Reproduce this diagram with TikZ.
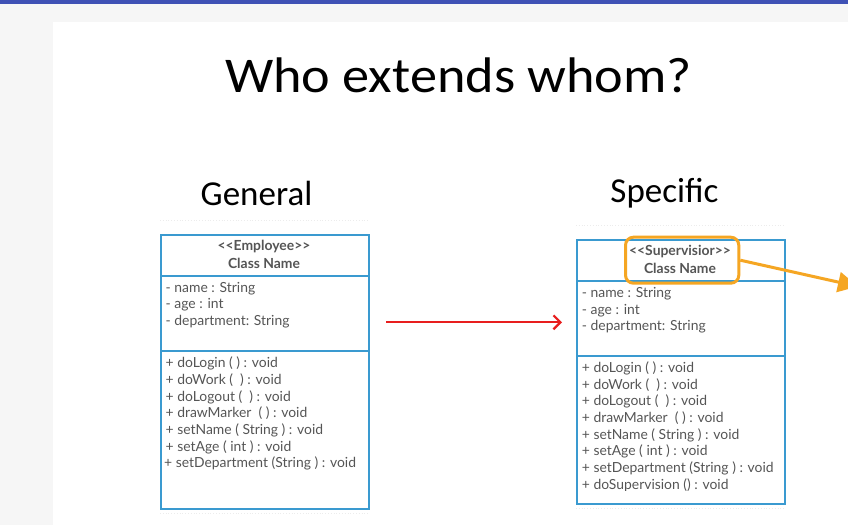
\documentclass[tikz,border=0pt]{standalone}
\usepackage{fontspec}
\setmainfont{Lato}
\newfontfamily\slidefont{Carlito}
\usetikzlibrary{arrows.meta}

\definecolor{barblue}{RGB}{63,81,181}
\definecolor{pagegray}{RGB}{246,246,246}
\definecolor{umlblue}{RGB}{58,154,208}
\definecolor{umltext}{RGB}{85,85,85}
\definecolor{hiorange}{RGB}{245,166,35}
\definecolor{arrowred}{RGB}{232,30,30}

\tikzset{
  member/.style={anchor=base west, inner sep=0pt, text=umltext,
                 font=\fontsize{13.9}{16}\selectfont},
  stereo/.style={anchor=base, inner sep=0pt, text=umltext,
                 font=\bfseries\fontsize{13.9}{16}\selectfont},
  umlbox/.style={draw=umlblue, line width=2pt, inner sep=0pt, anchor=north west},
  divider/.style={draw=umlblue, line width=2pt},
  heading/.style={anchor=base, inner sep=0pt, text=black,
                  font=\slidefont\fontsize{35}{40}\selectfont},
  guide/.style={draw=gray!15, dotted, line width=0.8pt},
  highlight/.style={draw=hiorange, line width=3pt, rounded corners=8pt,
                    inner sep=0pt, anchor=north west}
}

\begin{document}
\begin{tikzpicture}[x=1pt,y=-1pt]
\useasboundingbox (0,0) rectangle (848,525);
\clip (0,0) rectangle (848,525);

% slide background
\fill[pagegray] (0,0) rectangle (848,525);
\fill[white] (53,22) rectangle (848,525);
\fill[barblue] (0,0) rectangle (848,4);

% headings
\node[heading, font=\slidefont\fontsize{50}{54}\selectfont, xscale=1.085] (title) at (458.5,92) {Who extends whom?};
\node[heading] (general) at (256.5,205) {General};
\node[heading] (specific) at (664.5,202) {Specific};

% faint guide lines around the class boxes
\draw[guide] (160,220) -- (368,220);
\draw[guide] (160,513) -- (368,513);
\draw[guide] (576,225) -- (784,225);
\draw[guide] (576,508) -- (784,508);

% ---- Employee class ----
\node[umlbox, minimum width=208.3pt, minimum height=273.4pt] (emp) at (160,234.3) {};
\draw[divider] (160,276) -- (368.3,276);
\draw[divider] (160,351) -- (368.3,351);
\node[stereo] (empstereo) at (264,250) {<{}<Employee>{}>};
\node[stereo] (empname) at (264,268.3) {Class Name};
\node[member] (ea1) at (165.5,292)   {- name : String};
\node[member] (ea2) at (165.5,308.7) {- age : int};
\node[member] (ea3) at (165.5,325.4) {- department: String};
\node[member] (em1) at (165.5,367.7) {+ doLogin ( ) : void};
\node[member] (em2) at (165.5,384.4) {+ doWork (\ \ ) : void};
\node[member] (em3) at (165.5,401.1) {+ doLogout (\ \ ) : void};
\node[member] (em4) at (165.5,417.8) {+ drawMarker\ \ ( ) : void};
\node[member] (em5) at (165.5,434.5) {+ setName ( String ) : void};
\node[member] (em6) at (165.5,451.2) {+ setAge ( int ) : void};
\node[member] (em7) at (164,467.9)   {+ setDepartment (String ) : void};

% ---- Supervisior class ----
\node[umlbox, minimum width=208pt, minimum height=263.4pt] (sup) at (576,239.3) {};
\draw[divider] (576,281) -- (784,281);
\draw[divider] (576,355.7) -- (784,355.7);
\node[stereo] (supstereo) at (680,255) {<{}<Supervisior>{}>};
\node[stereo] (supname) at (680,273.3) {Class Name};
\node[member] (sa1) at (581.7,297.3) {- name : String};
\node[member] (sa2) at (581.7,314)   {- age : int};
\node[member] (sa3) at (581.7,330.7) {- department: String};
\node[member] (sm1) at (581.7,372.3) {+ doLogin ( ) : void};
\node[member] (sm2) at (581.7,389)   {+ doWork (\ \ ) : void};
\node[member] (sm3) at (581.7,405.7) {+ doLogout (\ \ ) : void};
\node[member] (sm4) at (581.7,422.4) {+ drawMarker\ \ ( ) : void};
\node[member] (sm5) at (581.7,439.1) {+ setName ( String ) : void};
\node[member] (sm6) at (581.7,455.8) {+ setAge ( int ) : void};
\node[member] (sm7) at (581.7,472.5) {+ setDepartment (String ) : void};
\begin{scope}
  \clip (576,478) rectangle (784,490.5);
  \node[member] (sm8) at (581.7,489.2) {+ doSupervision () : void};
\end{scope}

% highlight around the supervisor header
\node[highlight, minimum width=113.3pt, minimum height=46pt] (hl) at (624,235.7) {};
\coordinate (offpage) at (858,286.5);
\draw[hiorange, line width=3pt, -{Triangle[length=20pt,width=20pt]}] (hl.east) -- (offpage);

% red relation arrow between the two classes
\coordinate (relstart) at (386,322.3);
\coordinate (relend) at (562,322.3);
\draw[arrowred, line width=2.2pt, -{Straight Barb[length=7pt,width=14pt]}] (relstart) -- (relend);
\end{tikzpicture}
\end{document}
